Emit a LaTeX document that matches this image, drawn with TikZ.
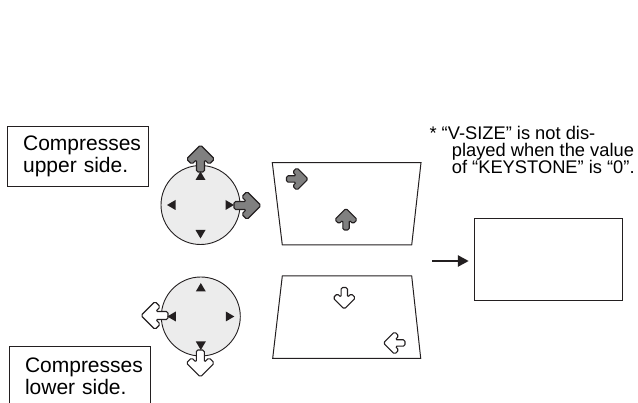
\documentclass[tikz,border=0pt]{standalone}
\usepackage{fontspec}
\setmainfont{Liberation Sans}
\usetikzlibrary{arrows.meta}

\definecolor{ink}{RGB}{35,31,32}
\definecolor{arrowgray}{RGB}{128,128,128}
\definecolor{padgray}{RGB}{236,236,236}

\newcommand\boxfont{\fontsize{21}{22.5}\selectfont}
\newcommand\notefont{\fontsize{18.3}{17}\selectfont}

\tikzset{
  blockarrow/.pic={
    \path[pic actions, line width=1.1pt, rounded corners=1.6pt, line join=round]
      (0,4) -- (12.4,4) -- (7.7,8.7) -- (13,14) -- (27,0)
      -- (13,-14) -- (7.7,-8.7) -- (12.4,-4) -- (0,-4) -- cycle;
  },
  padtick/.pic={
    \fill[ink] (25,5) -- (33.5,0) -- (25,-5) -- cycle;
  },
  grayarrow/.style={draw=ink, fill=arrowgray},
  openarrow/.style={draw=ink, fill=white},
  pad/.style={circle, draw=ink, fill=padgray, line width=0.9pt,
    minimum size=79pt, inner sep=0pt},
  callout/.style={draw=ink, line width=0.9pt, text width=137pt,
    inner xsep=2pt, minimum height=60pt, align=left, font=\boxfont},
  note/.style={anchor=base west, inner sep=0pt, font=\notefont},
  screen/.style={draw=ink, line width=1pt, minimum width=148pt,
    minimum height=82pt, inner sep=0pt}
}

\begin{document}
\begin{tikzpicture}[x=1pt, y=-1pt]
\useasboundingbox (0,0) rectangle (638,403);

% captions
\node[callout] (upperbox) at (77.6,156.5)
  {\hspace*{14pt}\mbox{Compresses}\\\hspace*{14pt}\mbox{upper side.}};
\node[callout, anchor=north] (lowerbox) at (79.5,346)
  {\hspace*{14pt}\mbox{Compresses}\\\hspace*{14pt}\mbox{lower side.}};

% pads
\node[pad] (upad) at (200.5,205) {};
\node[pad] (lpad) at (200.8,316.5) {};
\pic[grayarrow, rotate=90] at (200.5,172) {blockarrow};
\pic[grayarrow] at (234,205.5) {blockarrow};
\pic[openarrow, rotate=180] at (168,315.5) {blockarrow};
\pic[openarrow, rotate=-90] at (200.3,350) {blockarrow};
\foreach \r in {0,90,180,270} {
  \pic[rotate=\r] at (upad) {padtick};
  \pic[rotate=\r] at (lpad) {padtick};
}

% keystone shapes
\draw[ink, line width=1pt] (272.3,162.7) -- (421,162.7) -- (411.7,245)
  -- (282.3,245) -- cycle;
\draw[ink, line width=1pt] (282.3,276) -- (411.7,276) -- (420.7,358.3)
  -- (272.7,358.3) -- cycle;
\pic[grayarrow, scale=0.8] at (286.5,179) {blockarrow};
\pic[grayarrow, scale=0.8, rotate=90] at (346,230) {blockarrow};
\pic[openarrow, scale=0.8, rotate=-90] at (344.3,287.5) {blockarrow};
\pic[openarrow, scale=0.8, rotate=180] at (405,343) {blockarrow};

% result
\node[screen] (result) at (548.3,259.5) {};
\coordinate (feed) at (432,261);
\draw[ink, line width=2.6pt, shorten >=5pt,
  -{Triangle[length=11pt, width=11pt]}] (feed) -- (feed -| result.west);

% note
\node[note] (note1) at (429.3,139.3) {* “V-SIZE” is not dis-};
\node[note] (note2) at (451.7,156.7) {played when the value};
\node[note] (note3) at (451.7,173.3) {of “KEYSTONE” is “0”.};
\end{tikzpicture}
\end{document}
